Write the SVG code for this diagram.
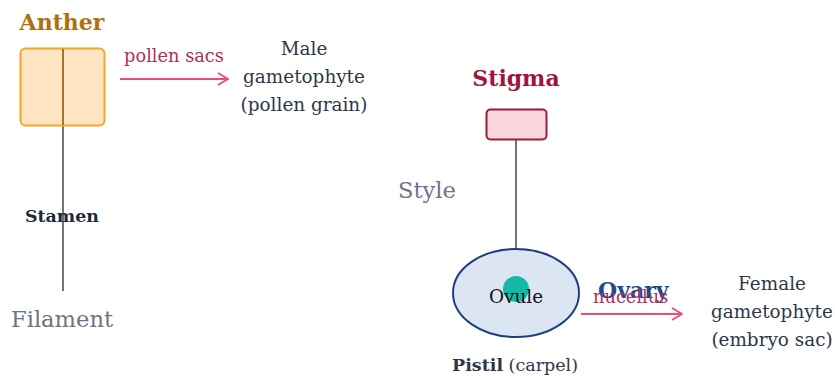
<svg xmlns="http://www.w3.org/2000/svg" width="835" height="376" viewBox="0 0 835 376">
<style>
text{font-family:"DejaVu Serif","Liberation Serif",serif}
.title{font-weight:bold;font-size:22px}
.gray{fill:#6b7584;font-size:22.6px}
.body{fill:#2d3748;font-size:18.4px;text-anchor:middle}
.lbl{fill:#b0305a;font-size:17.8px}
.stem{stroke:#6b7584;stroke-width:2;fill:none}
.arrow{stroke:#ec4e78;stroke-width:2;fill:none}
</style>
<defs>
<marker id="ah" markerWidth="12" markerHeight="14" refX="11" refY="7" orient="auto" markerUnits="userSpaceOnUse">
<path d="M1,1 L11,7 L1,13" fill="none" stroke="#ec4e78" stroke-width="2"/>
</marker>
</defs>
<g id="connectors">
<line class="stem" x1="63" y1="125" x2="63" y2="291"/>
<line class="stem" x1="516" y1="140" x2="516" y2="249"/>
<line class="arrow" x1="120" y1="79" x2="228" y2="79" marker-end="url(#ah)"/>
<line class="arrow" x1="581" y1="314" x2="682" y2="314" marker-end="url(#ah)"/>
</g>
<g id="anther">
<text class="title" x="62" y="30" text-anchor="middle" fill="#b0700f">Anther</text>
<rect x="20.5" y="48.5" width="84" height="77" rx="5" fill="#fde5c4" stroke="#f5a623" stroke-width="2"/>
<line x1="63" y1="49" x2="63" y2="125" stroke="#a8761e" stroke-width="2"/>
</g>
<g id="stamen">
<text x="62" y="222" text-anchor="middle" font-weight="bold" font-size="17.4" fill="#1f2937">Stamen</text>
</g>
<g id="filament">
<text class="gray" x="62" y="327" text-anchor="middle">Filament</text>
</g>
<g id="pollen-label">
<text class="lbl" x="174" y="62" text-anchor="middle">pollen sacs</text>
</g>
<g id="male-gametophyte">
<text class="body" x="304" y="55">Male</text>
<text class="body" x="304" y="83">gametophyte</text>
<text class="body" x="304" y="111">(pollen grain)</text>
</g>
<g id="stigma">
<text class="title" x="516" y="86" text-anchor="middle" fill="#a0163a">Stigma</text>
<rect x="486.5" y="109.5" width="60" height="30" rx="4" fill="#f9d5dc" stroke="#a01a3a" stroke-width="2"/>
</g>
<g id="style">
<text class="gray" x="398" y="198">Style</text>
</g>
<g id="ovary">
<ellipse cx="516" cy="293" rx="63" ry="44" fill="#dce6f2" stroke="#1e3f80" stroke-width="2"/>
<circle cx="516" cy="289" r="13" fill="#14b8a6"/>
<text x="516" y="303" text-anchor="middle" font-size="18.4" fill="#111">Ovule</text>
<text class="title" x="598" y="298" fill="#1e4a8a">Ovary</text>
<text class="lbl" x="593" y="303">nucellus</text>
</g>
<g id="female-gametophyte">
<text class="body" x="772" y="290">Female</text>
<text class="body" x="772" y="318">gametophyte</text>
<text class="body" x="772" y="346">(embryo sac)</text>
</g>
<g id="pistil">
<text x="452" y="371" font-size="17.5" fill="#2d3748"><tspan font-weight="bold">Pistil</tspan> (carpel)</text>
</g>
</svg>
